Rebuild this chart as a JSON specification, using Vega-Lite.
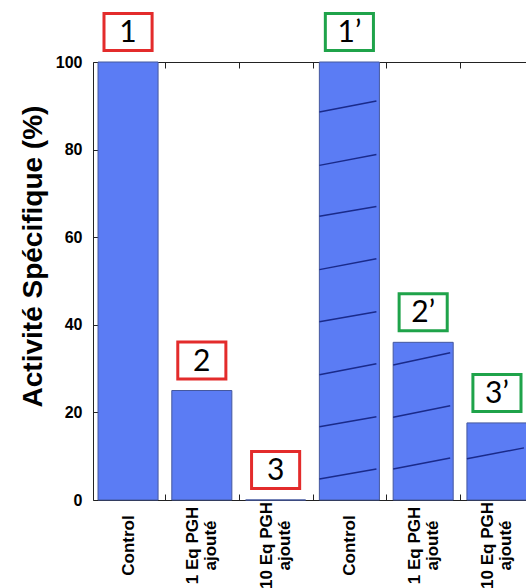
{
  "$schema": "https://vega.github.io/schema/vega-lite/v6.json",
  "width": 439,
  "height": 438,
  "autosize": {"type": "none"},
  "padding": {"left": 93, "top": 62, "right": -6, "bottom": 88},
  "background": "white",
  "config": {
    "view": {"stroke": null},
    "axis": {"grid": false, "domainColor": "#222222", "tickColor": "#222222", "labelFont": "Liberation Sans", "titleFont": "Liberation Sans", "labelColor": "black", "titleColor": "black"}
  },
  "datasets": {
    "bars": [
      {"cat": "Control#1", "value": 100, "group": "A", "label": "1"},
      {"cat": "1 Eq PGH|ajouté#1", "value": 25, "group": "A", "label": "2"},
      {"cat": "10 Eq PGH|ajouté#1", "value": 0, "group": "A", "label": "3"},
      {"cat": "Control#2", "value": 100, "group": "B", "label": "1’"},
      {"cat": "1 Eq PGH|ajouté#2", "value": 36, "group": "B", "label": "2’"},
      {"cat": "10 Eq PGH|ajouté#2", "value": 17.6, "group": "B", "label": "3’"}
    ],
    "hatch": [
      {"cat": "Control#2", "y1": 4.8, "y2": 7.1},
      {"cat": "Control#2", "y1": 16.7, "y2": 19.0},
      {"cat": "Control#2", "y1": 28.6, "y2": 31.1},
      {"cat": "Control#2", "y1": 40.7, "y2": 43.0},
      {"cat": "Control#2", "y1": 52.6, "y2": 55.1},
      {"cat": "Control#2", "y1": 64.8, "y2": 67.0},
      {"cat": "Control#2", "y1": 76.4, "y2": 78.9},
      {"cat": "Control#2", "y1": 88.6, "y2": 91.1},
      {"cat": "1 Eq PGH|ajouté#2", "y1": 7.1, "y2": 9.6},
      {"cat": "1 Eq PGH|ajouté#2", "y1": 18.9, "y2": 21.5},
      {"cat": "1 Eq PGH|ajouté#2", "y1": 30.8, "y2": 33.6},
      {"cat": "10 Eq PGH|ajouté#2", "y1": 9.4, "y2": 11.9}
    ]
  },
  "layer": [
    {
      "data": {"name": "bars"},
      "mark": {"type": "bar", "color": "#5b7cf4", "stroke": "#45589e", "strokeWidth": 1},
      "encoding": {
        "x": {
          "field": "cat", "type": "nominal", "sort": null,
          "scale": {"paddingInner": 0.186, "paddingOuter": 0.068},
          "axis": {
            "orient": "bottom", "title": null, "labelAngle": -90, "labelAlign": "center", "labelBaseline": "middle",
            "labelFontSize": 17, "labelFontWeight": "bold", "labelLineHeight": 18, "labelPadding": 51,
            "labelExpr": "split(slice(datum.value, 0, indexof(datum.value, '#')), '|')",
            "labelOverlap": false, "labelLimit": 0,
            "tickSize": -6, "bandPosition": 1, "tickOffset": 6.9,
            "labelOffset": {"condition": {"test": "indexof(datum.value, '|') >= 0", "value": -15.9}, "value": -6.9}
          }
        },
        "y": {
          "field": "value", "type": "quantitative",
          "scale": {"domain": [0, 100], "nice": false},
          "axis": {
            "orient": "left", "values": [0, 20, 40, 60, 80, 100], "tickSize": -5,
            "labelFontSize": 16, "labelFontWeight": "bold", "labelPadding": 16, "labelFlush": false,
            "title": "Activité Spécifique (%)", "titleFontSize": 28, "titleFontWeight": "bold",
            "titleX": -52, "titleY": 194, "titleAngle": 270, "titleAlign": "center", "titleBaseline": "alphabetic"
          }
        }
      }
    },
    {
      "data": {"name": "hatch"},
      "mark": {"type": "rule", "color": "#1a2a8a", "strokeWidth": 1.5},
      "encoding": {
        "x": {
          "field": "cat", "type": "nominal", "sort": null, "bandPosition": 0,
          "axis": {"orient": "top", "labels": false, "title": null, "tickSize": -6, "bandPosition": 1, "tickOffset": 6.9}
        },
        "x2": {"field": "cat", "bandPosition": 0.95},
        "y": {
          "field": "y1", "type": "quantitative",
          "scale": {"domain": [0, 100], "nice": false},
          "axis": {"orient": "right", "labels": false, "title": null, "tickSize": -6, "values": [0, 20, 40, 60, 80, 100]}
        },
        "y2": {"field": "y2"}
      }
    },
    {
      "data": {"name": "bars"},
      "mark": {"type": "point", "shape": "M-1.3,-1H1.3V1H-1.3Z", "size": 1369, "filled": true, "fill": "white", "fillOpacity": 1, "strokeWidth": 3, "opacity": 1, "yOffset": -30},
      "encoding": {
        "x": {"field": "cat", "type": "nominal", "sort": null, "axis": null},
        "y": {"field": "value", "type": "quantitative", "axis": null},
        "stroke": {"field": "group", "type": "nominal", "scale": {"domain": ["A", "B"], "range": ["#e32b2b", "#1fa34a"]}, "legend": null}
      }
    },
    {
      "data": {"name": "bars"},
      "mark": {"type": "text", "font": "Lato", "fontSize": 30, "baseline": "middle", "align": "center", "color": "black", "yOffset": -29},
      "encoding": {
        "x": {"field": "cat", "type": "nominal", "sort": null, "axis": null},
        "y": {"field": "value", "type": "quantitative", "axis": null},
        "text": {"field": "label"}
      }
    }
  ],
  "resolve": {"axis": {"x": "independent", "y": "independent"}}
}
